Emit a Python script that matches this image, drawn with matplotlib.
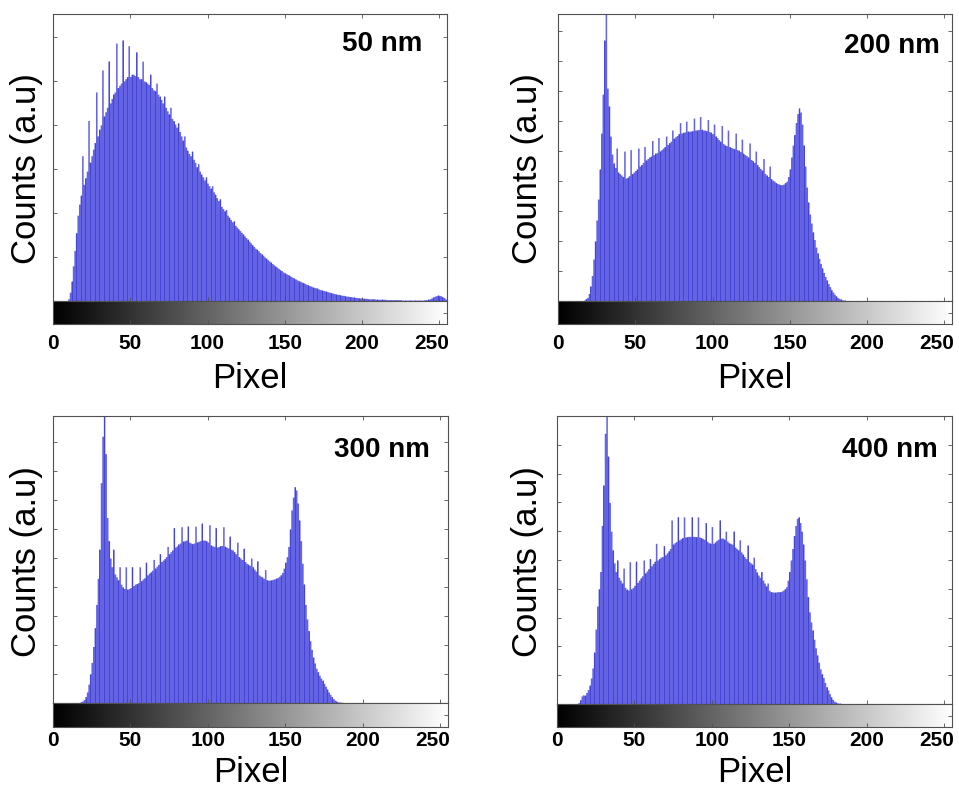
import numpy as np
import matplotlib
matplotlib.use("Agg")
from matplotlib import pyplot as plt
from matplotlib.transforms import ScaledTranslation

plt.rcParams['font.family'] = ['Liberation Sans', 'DejaVu Sans']

# histogram counts (a.u., one y-tick = 1) per grey level, starting at the given bin
start_50 = 10
counts_50 = [
    0.05, 0.2, 0.45, 0.8, 1.15, 1.55, 1.95, 2.2, 2.4, 3.3,
    2.65, 2.8, 2.95, 4.1, 3.15, 3.3, 3.45, 3.6, 4.75, 3.75,
    3.9, 4.0, 5.25, 4.2, 4.3, 4.4, 5.45, 4.5, 4.6, 4.7,
    4.75, 5.86, 4.85, 4.9, 4.95, 5.93, 5.0, 5.05, 5.1, 5.8,
    5.1, 5.15, 5.15, 5.12, 5.66, 5.1, 5.05, 5.05, 5.45, 5.0,
    4.98, 4.95, 4.92, 5.15, 4.85, 4.8, 4.78, 4.95, 4.7, 4.65,
    4.58, 4.5, 4.65, 4.4, 4.32, 4.25, 4.4, 4.15, 4.1, 4.02,
    3.95, 4.05, 3.85, 3.75, 3.65, 3.75, 3.5, 3.42, 3.35, 3.3,
    3.4, 3.22, 3.15, 3.05, 3.12, 2.95, 2.88, 2.82, 2.75, 2.82,
    2.68, 2.62, 2.56, 2.62, 2.48, 2.42, 2.35, 2.28, 2.32, 2.15,
    2.1, 2.05, 2.08, 1.95, 1.9, 1.85, 1.8, 1.82, 1.72, 1.68,
    1.64, 1.6, 1.56, 1.52, 1.48, 1.44, 1.4, 1.36, 1.32, 1.28,
    1.24, 1.2, 1.17, 1.14, 1.1, 1.07, 1.04, 1.0, 0.97, 0.94,
    0.91, 0.88, 0.85, 0.82, 0.79, 0.77, 0.74, 0.71, 0.69, 0.66,
    0.64, 0.62, 0.6, 0.58, 0.56, 0.54, 0.52, 0.5, 0.48, 0.46,
    0.45, 0.43, 0.42, 0.4, 0.38, 0.37, 0.35, 0.34, 0.32, 0.31,
    0.3, 0.29, 0.27, 0.26, 0.25, 0.24, 0.23, 0.22, 0.21, 0.2,
    0.19, 0.18, 0.17, 0.16, 0.15, 0.15, 0.14, 0.13, 0.13, 0.12,
    0.11, 0.11, 0.1, 0.1, 0.09, 0.09, 0.08, 0.08, 0.07, 0.07,
    0.07, 0.06, 0.06, 0.06, 0.05, 0.05, 0.05, 0.05, 0.05, 0.04,
    0.04, 0.04, 0.04, 0.04, 0.04, 0.04, 0.03, 0.03, 0.03, 0.03,
    0.03, 0.03, 0.03, 0.03, 0.03, 0.03, 0.02, 0.02, 0.02, 0.02,
    0.02, 0.02, 0.02, 0.02, 0.02, 0.02, 0.02, 0.02, 0.02, 0.02,
    0.02, 0.03, 0.03, 0.04, 0.05, 0.07, 0.09, 0.11, 0.12, 0.13,
    0.13, 0.12, 0.1, 0.08, 0.05, 0.03,
]

start_200 = 17
counts_200 = [
    0.03, 0.08, 0.12, 0.25, 0.5, 0.85, 1.4, 2.0, 2.7, 3.4,
    4.4, 5.6, 6.9, 8.7, 9.6, 7.1, 6.5, 5.5, 4.9, 4.6,
    4.45, 5.1, 4.3, 4.25, 4.2, 4.15, 5.0, 4.1, 4.12, 4.18,
    5.05, 4.25, 4.3, 4.35, 4.4, 5.1, 4.5, 4.55, 4.62, 5.15,
    4.7, 4.75, 4.8, 4.82, 5.35, 4.88, 4.92, 4.95, 5.45, 5.0,
    5.05, 5.1, 5.15, 5.5, 5.22, 5.28, 5.33, 5.7, 5.42, 5.48,
    5.52, 5.58, 5.95, 5.6, 5.62, 5.64, 6.0, 5.66, 5.66, 5.67,
    5.68, 6.1, 5.7, 5.7, 5.72, 6.15, 5.72, 5.7, 5.7, 5.68,
    6.05, 5.65, 5.62, 5.58, 5.9, 5.5, 5.45, 5.38, 5.32, 5.85,
    5.25, 5.2, 5.18, 5.7, 5.15, 5.12, 5.1, 5.08, 5.6, 5.05,
    5.02, 4.98, 5.4, 4.92, 4.88, 4.85, 4.8, 5.27, 4.72, 4.68,
    4.62, 5.0, 4.55, 4.48, 4.42, 4.36, 4.75, 4.25, 4.2, 4.15,
    4.5, 4.08, 4.03, 4.0, 3.95, 3.92, 3.9, 3.88, 3.88, 3.9,
    3.95, 4.0, 4.15, 4.4, 4.8, 5.2, 5.55, 5.95, 6.25, 6.43,
    6.3, 5.9, 5.2, 4.5, 3.8, 3.3, 2.9, 2.6, 2.3, 2.05,
    1.8, 1.6, 1.42, 1.25, 1.1, 0.95, 0.82, 0.7, 0.58, 0.48,
    0.38, 0.3, 0.23, 0.17, 0.12, 0.09, 0.06, 0.04, 0.03, 0.02,
    0.01,
]

start_300 = 17
counts_300 = [
    0.02, 0.04, 0.07, 0.12, 0.22, 0.38, 0.65, 1.0, 1.4, 1.95,
    2.6, 3.4, 4.3, 5.3, 7.6, 9.2, 9.9, 8.6, 6.4, 5.6,
    5.0, 4.7, 5.3, 4.45, 4.35, 4.25, 4.7, 4.1, 4.0, 3.95,
    4.7, 3.92, 3.95, 3.98, 4.7, 4.05, 4.1, 4.12, 4.15, 4.7,
    4.22, 4.28, 4.32, 4.85, 4.42, 4.48, 4.52, 4.58, 4.95, 4.65,
    4.72, 4.78, 5.15, 4.88, 4.93, 4.98, 5.05, 5.4, 5.15, 5.22,
    5.28, 6.05, 5.38, 5.42, 5.48, 5.52, 6.08, 5.58, 5.6, 5.62,
    6.1, 5.55, 5.52, 5.5, 5.52, 6.1, 5.55, 5.58, 5.6, 6.2,
    5.62, 5.62, 5.6, 5.55, 6.15, 5.45, 5.42, 5.4, 6.05, 5.38,
    5.4, 5.43, 5.43, 6.08, 5.4, 5.38, 5.35, 5.75, 5.3, 5.28,
    5.22, 5.15, 5.55, 5.05, 5.0, 4.95, 5.33, 4.88, 4.82, 4.78,
    4.75, 5.0, 4.7, 4.62, 4.55, 4.9, 4.42, 4.38, 4.35, 4.3,
    4.6, 4.25, 4.24, 4.24, 4.25, 4.27, 4.28, 4.3, 4.33, 4.37,
    4.42, 4.5, 4.65, 4.85, 5.05, 5.4, 6.0, 6.66, 7.1, 7.46,
    7.35, 6.9, 6.31, 5.6, 4.82, 4.1, 3.4, 2.9, 2.5, 2.15,
    1.85, 1.58, 1.38, 1.2, 1.08, 0.96, 0.86, 0.78, 0.68, 0.58,
    0.48, 0.38, 0.3, 0.22, 0.15, 0.1, 0.06, 0.04, 0.03, 0.02,
    0.02, 0.01, 0.01,
]

start_400 = 14
counts_400 = [
    0.05, 0.15, 0.28, 0.32, 0.3, 0.4, 0.5, 0.65, 0.9, 1.25,
    1.8, 2.6, 3.4, 4.0, 4.6, 6.2, 7.6, 9.4, 10.0, 8.6,
    7.0, 6.0, 5.35, 4.9, 4.6, 5.0, 4.4, 4.3, 4.2, 4.72,
    4.05, 3.98, 3.96, 4.94, 4.0, 4.05, 4.12, 4.95, 4.22, 4.3,
    4.38, 4.45, 5.0, 4.55, 4.62, 4.7, 5.05, 4.8, 4.88, 4.95,
    5.58, 5.0, 5.05, 5.1, 5.12, 5.5, 5.18, 5.25, 5.32, 5.4,
    6.39, 5.55, 5.6, 5.64, 6.5, 5.7, 5.74, 5.78, 6.5, 5.8,
    5.81, 5.82, 5.82, 6.5, 5.82, 5.82, 5.81, 6.5, 5.8, 5.78,
    5.75, 5.72, 6.3, 5.65, 5.6, 5.58, 6.16, 5.58, 5.62, 5.68,
    5.72, 6.39, 5.76, 5.76, 5.72, 6.0, 5.66, 5.6, 5.58, 5.55,
    6.0, 5.45, 5.4, 5.35, 5.7, 5.28, 5.2, 5.12, 5.05, 5.52,
    4.95, 4.9, 4.85, 5.1, 4.7, 4.58, 4.48, 4.4, 4.6, 4.3,
    4.2, 4.1, 4.2, 3.95, 3.9, 3.9, 3.88, 3.88, 3.9, 3.9,
    3.9, 3.92, 3.95, 4.0, 4.07, 4.3, 4.6, 5.0, 5.4, 5.85,
    6.2, 6.45, 6.5, 6.3, 6.0, 5.55, 5.0, 4.35, 3.73, 3.2,
    2.85, 2.57, 2.25, 1.95, 1.7, 1.45, 1.22, 1.05, 0.92, 0.75,
    0.6, 0.49, 0.36, 0.25, 0.16, 0.1, 0.06, 0.04, 0.03, 0.02,
    0.02, 0.01,
]

labels = ["50 nm", "200 nm", "300 nm", "400 nm"]
starts = [start_50, start_200, start_300, start_400]
series = [counts_50, counts_200, counts_300, counts_400]
y_tops = [6.52, 9.57, 9.9, 10.0]
x_ticks = [0, 50, 100, 150, 200, 250]

W, H = 959, 791
# panel geometry in pixels: left, right, hist top, hist bottom, colorbar bottom
boxes = [(53, 447, 14, 301, 324), (558, 952, 14, 301, 324),
         (53, 448, 416, 703, 727), (557, 952, 416, 704, 727)]
label_pos = [(0.9365, 0.8955), (0.9695, 0.890), (0.954, 0.883), (0.9646, 0.882)]
ylabel_pos = [(27, 169), (528, 169), (27, 562), (528, 562)]
xlabel_y = [388, 388, 789, 789]
tick_pad = [7, 7, 3, 3]

bar_color = "#6363e4"
stem_color = "#3838cc"
frame = "#505050"

fig = plt.figure(figsize=(W / 100, H / 100), dpi=100)
gradient = np.linspace(0, 1, 256).reshape(1, -1)
shift_left = ScaledTranslation(-8 / 100, 0, fig.dpi_scale_trans)

for i in range(4):
    left, right, top, base, cbot = boxes[i]
    ax = fig.add_axes([left / W, 1 - base / H, (right - left) / W, (base - top) / H])
    cax = fig.add_axes([left / W, 1 - cbot / H, (right - left) / W, (cbot - base) / H])

    counts = np.zeros(256)
    counts[starts[i]:starts[i] + len(series[i])] = series[i]
    bins = np.arange(256)
    ax.fill_between(bins, 0, counts, step="mid", color=bar_color, linewidth=0)
    ax.vlines(bins[::3], 0, counts[::3], colors=stem_color, linewidth=0.5)

    ax.set_xlim(0, 255)
    ax.set_ylim(0, y_tops[i])
    ax.set_xticks(x_ticks[1:])
    ax.set_yticks(np.arange(1, int(y_tops[i]) + 1))
    ax.tick_params(direction="in", length=3, width=0.6, color=frame,
                   top=True, right=True, labelbottom=False, labelleft=False)
    ax.text(*label_pos[i], labels[i], transform=ax.transAxes, ha="right",
            va="center", fontsize=20, fontweight="bold")

    cax.imshow(gradient, cmap="gray", aspect="auto", extent=[0, 255, 0, 1],
               vmin=0, vmax=1)
    cax.set_xlim(0, 255)
    cax.set_ylim(0, 1)
    cax.set_xticks(x_ticks)
    cax.set_yticks([0.5])
    cax.tick_params(axis="x", direction="in", length=3, width=0.6, color=frame,
                    pad=tick_pad[i], labelsize=15)
    cax.tick_params(axis="y", direction="in", length=3, width=0.6, color=frame,
                    left=False, right=True, labelleft=False)
    ticklabels = cax.get_xticklabels()
    for lab in ticklabels:
        lab.set_fontweight("bold")
    ticklabels[-1].set_transform(ticklabels[-1].get_transform() + shift_left)

    for a in (ax, cax):
        for s in a.spines.values():
            s.set_color(frame)
            s.set_linewidth(0.8)

    fig.text((left + right) / 2 / W, 1 - xlabel_y[i] / H, "Pixel",
             ha="center", va="bottom" if i >= 2 else "baseline", fontsize=25)
    fig.text(ylabel_pos[i][0] / W, 1 - ylabel_pos[i][1] / H, "Counts (a.u)",
             ha="center", va="center", rotation=90, fontsize=25)

fig.savefig("out.png", dpi=100)
